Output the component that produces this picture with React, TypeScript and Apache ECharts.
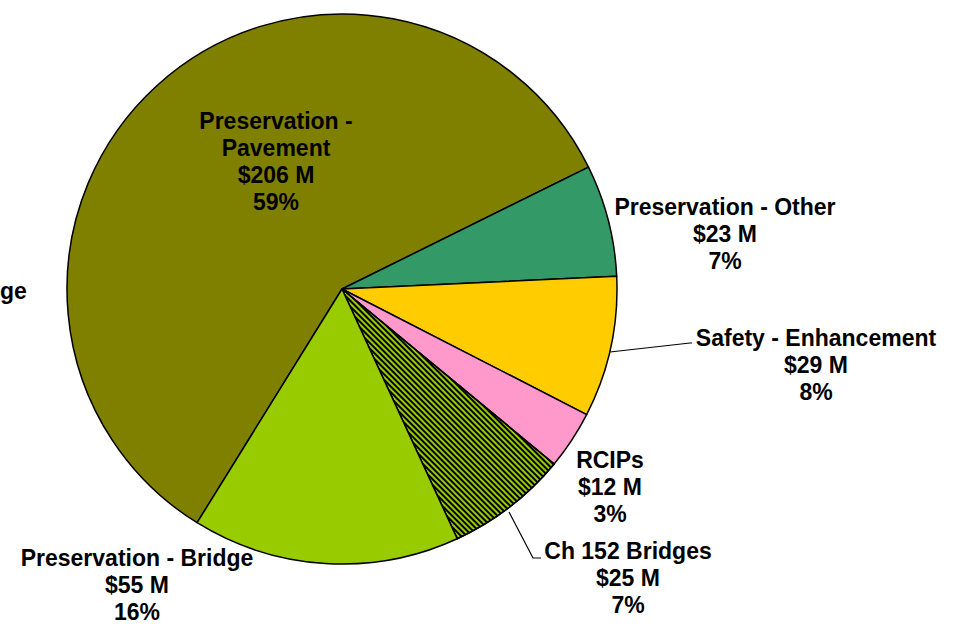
import React, { useEffect, useRef } from "react";
import * as echarts from "echarts";

const categories = [
  "Preservation - Pavement",
  "Preservation - Other",
  "Safety - Enhancement",
  "RCIPs",
  "Ch 152 Bridges",
  "Preservation - Bridge",
];
const values = [206, 23, 29, 12, 25, 55];
const colors = ["#808000", "#339966", "#FFCC00", "#FF99CC", "#99CC00", "#99CC00"];

// label block centers (layout only)
const labelPos: [number, number][] = [
  [276, 161],
  [725, 234],
  [816, 365],
  [610, 487],
  [628, 578],
  [137, 585],
];

export default function App() {
  const ref = useRef<HTMLDivElement>(null);
  useEffect(() => {
    if (!ref.current) return;
    const chart = echarts.init(ref.current, undefined, { renderer: "svg" });
    const font = "'Liberation Sans', Arial, sans-serif";
    const data = categories.map((name, i) => {
      const item: any = {
        name,
        value: values[i],
        itemStyle: { color: colors[i] },
        labelLine: { show: i === 2 || i === 4 },
      };
      if (i === 0) {
        item.label = { formatter: "Preservation -\nPavement\n${c} M\n{d}%" };
      }
      if (i === 4) {
        item.itemStyle.decal = {
          symbol: "rect",
          symbolSize: 1,
          color: "#000000",
          dashArrayX: [1, 0],
          dashArrayY: [1.5, 1.6],
          rotation: Math.PI / 4,
        };
      }
      return item;
    });
    chart.setOption({
      animation: false,
      aria: { enabled: false },
      series: [
        {
          type: "pie",
          center: [342, 289],
          radius: 275,
          startAngle: 238.2,
          clockwise: true,
          percentPrecision: 0,
          avoidLabelOverlap: false,
          itemStyle: { borderColor: "#000", borderWidth: 1.5 },
          label: {
            show: true,
            position: "outside",
            formatter: "{b}\n${c} M\n{d}%",
            fontFamily: font,
            fontWeight: "bold",
            fontSize: 23,
            lineHeight: 27,
            color: "#000",
            align: "center",
          },
          labelLine: { show: false, lineStyle: { color: "#000", width: 1.2 } },
          labelLayout: (p: any) => {
            const i = p.dataIndex;
            const res: any = {
              x: labelPos[i][0],
              y: labelPos[i][1],
              align: "center",
              verticalAlign: "middle",
            };
            if (i === 2) res.labelLinePoints = [[610, 352], [690, 343], [692, 343]];
            if (i === 4) res.labelLinePoints = [[509, 512], [533, 558], [541, 558]];
            return res;
          },
          data,
        },
      ],
      graphic: [
        {
          type: "text",
          left: 0,
          top: 279,
          style: {
            text: "ge",
            font: "bold 23px 'Liberation Sans', Arial, sans-serif",
            fill: "#000",
          },
        },
      ],
    });
    return () => chart.dispose();
  }, []);
  return (
    <div
      ref={ref}
      style={{ position: "fixed", left: 0, top: 0, width: 961, height: 626, background: "#fff" }}
    />
  );
}
